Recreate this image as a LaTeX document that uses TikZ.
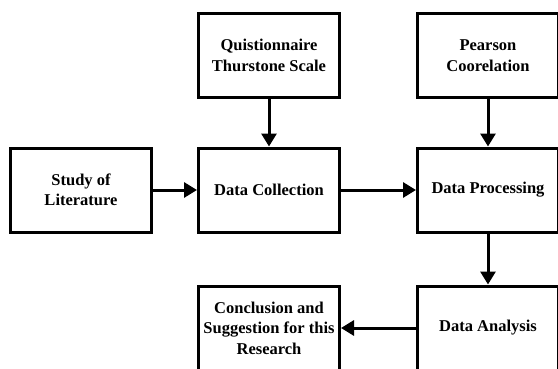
\documentclass[tikz,border=0pt]{standalone}
\usepackage{fontspec}
\setmainfont{Liberation Serif}
\usetikzlibrary{arrows.meta}
\begin{document}
\begin{tikzpicture}[x=1pt,y=1pt,
  box/.style={draw=black, line width=3pt, minimum width=141pt, minimum height=84pt,
    inner sep=2pt, align=center, font=\fontsize{16.5}{20.5}\selectfont\bfseries, fill=white},
  conn/.style={line width=3pt, -{Triangle[length=13pt,width=15pt]}}]
\useasboundingbox[fill=white] (0,0) rectangle (558,368);
\node[box] (q) at (269,312.5) {Quistionnaire\\Thurstone Scale};
\node[box] (p) at (488,312.5) {Pearson\\Coorelation};
\node[box] (s) at (81,178) {Study of\\Literature};
\node[box] (dc) at (269,178) {Data Collection};
\node[box] (dp) at (488,178) {Data Processing};
\node[box] (c) at (269,40) {Conclusion and\\Suggestion for this\\Research};
\node[box] (da) at (488,40) {Data Analysis};
\draw[conn] (q) -- (dc);
\draw[conn] (p) -- (dp);
\draw[conn] (s) -- (dc);
\draw[conn] (dc) -- (dp);
\draw[conn] (dp) -- (da);
\draw[conn] (da) -- (c);
\end{tikzpicture}
\end{document}
